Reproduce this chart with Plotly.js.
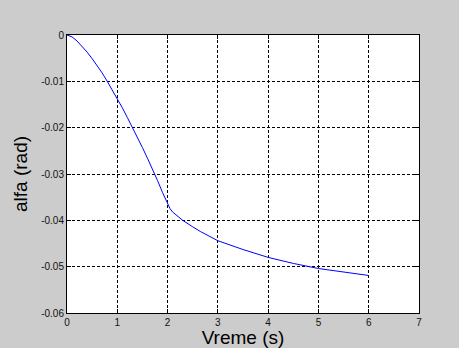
<!DOCTYPE html>
<html>
<head>
<meta charset="utf-8">
<script src="https://cdn.plot.ly/plotly-3.0.1.min.js"></script>
<style>html,body{margin:0;padding:0;background:#cccccc;}#chart{width:459px;height:348px;}</style>
</head>
<body>
<div id="chart"></div>
<script>
const time = [0, 0.1, 0.2, 0.3, 0.4, 0.5, 0.6, 0.7, 0.8, 0.9, 1.0, 1.1, 1.2, 1.3, 1.4, 1.5, 1.6, 1.7, 1.8, 1.9, 1.95, 2.0, 2.05, 2.1, 2.15, 2.2, 2.3, 2.5, 2.65, 3.0, 3.5, 4.0, 4.5, 5.0, 5.5, 6.0];
const alfa = [0, -0.0004, -0.0013, -0.0024, -0.0037, -0.0051, -0.0066, -0.0082, -0.0100, -0.0118, -0.0137, -0.0157, -0.0178, -0.0199, -0.0221, -0.0243, -0.0266, -0.0289, -0.0314, -0.0340, -0.0353, -0.0365, -0.0375, -0.0382, -0.0387, -0.0392, -0.0400, -0.0414, -0.0424, -0.0444, -0.0463, -0.0480, -0.0493, -0.0504, -0.0512, -0.0519];
const xTickVals = [0, 1, 2, 3, 4, 5, 6, 7];
const xTickText = ["0", "1", "2", "3", "4", "5", "6", "7"];
const yTickVals = [0, -0.01, -0.02, -0.03, -0.04, -0.05, -0.06];
const yTickText = ["0", "-0.01", "-0.02", "-0.03", "-0.04", "-0.05", "-0.06"];

const fontFam = "Liberation Sans, Arial, sans-serif";
const trace = {
  x: time, y: alfa, type: "scatter", mode: "lines",
  line: {color: "#0000ff", width: 1}, hoverinfo: "skip"
};
const axisCommon = {
  showline: true, linecolor: "#000000", linewidth: 1, mirror: "ticks",
  ticks: "inside", ticklen: 4, tickcolor: "#000000", tickwidth: 1,
  showgrid: true, gridcolor: "#000000", gridwidth: 1, griddash: "3px,2px",
  zeroline: false, tickmode: "array",
  tickfont: {family: fontFam, size: 10, color: "#111111"}
};
const layout = {
  width: 459, height: 348,
  paper_bgcolor: "#cccccc", plot_bgcolor: "#ffffff",
  margin: {l: 67, r: 40, t: 35, b: 35},
  showlegend: false,
  xaxis: Object.assign({}, axisCommon, {
    range: [0, 7], tickvals: xTickVals, ticktext: xTickText,
    title: {text: "Vreme (s)", font: {family: fontFam, size: 19, color: "#000000"}, standoff: 2}
  }),
  yaxis: Object.assign({}, axisCommon, {
    range: [-0.06, 0], tickvals: yTickVals, ticktext: yTickText,
    title: {text: "alfa (rad)", font: {family: fontFam, size: 19, color: "#000000"}, standoff: 8}
  })
};
Plotly.newPlot("chart", [trace], layout, {staticPlot: true, displayModeBar: false});
</script>
</body>
</html>
